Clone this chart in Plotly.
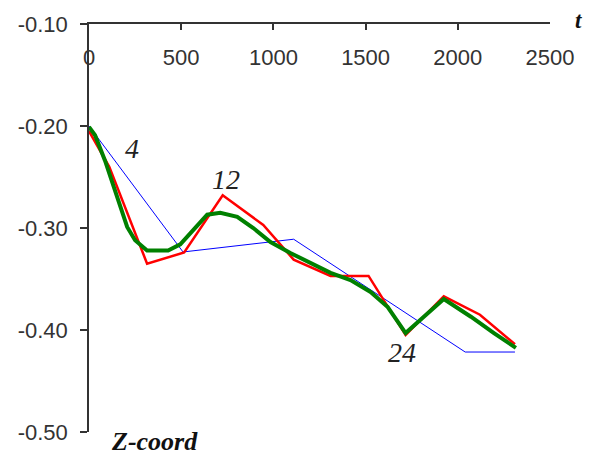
import plotly.graph_objects as go

# Data
t_4 = [0, 510, 1110, 2040, 2310]
z_4 = [-0.200, -0.3235, -0.311, -0.4216, -0.4216]

t_12 = [0, 110, 315, 516, 725, 945, 1110, 1310, 1516, 1717, 1924, 2120, 2310]
z_12 = [-0.205, -0.240, -0.335, -0.324, -0.268, -0.297, -0.331, -0.347, -0.347,
        -0.405, -0.367, -0.385, -0.414]

t_24 = [0, 33, 87, 130, 168, 207, 250, 315, 429, 495, 565, 641, 712, 804, 891,
        984, 1092, 1201, 1310, 1418, 1527, 1620, 1717, 1924, 2071, 2196, 2315]
z_24 = [-0.201, -0.209, -0.234, -0.257, -0.276, -0.299, -0.312, -0.322, -0.322,
        -0.316, -0.302, -0.287, -0.285, -0.289, -0.300, -0.3137, -0.3245, -0.334,
        -0.344, -0.351, -0.3627, -0.3775, -0.403, -0.3696, -0.387, -0.403, -0.4176]

x_ticks = [0, 500, 1000, 1500, 2000, 2500]
x_ticktext = ["0", "500", "1000", "1500", "2000", "2500"]
y_ticks = [-0.5, -0.4, -0.3, -0.2, -0.1]
y_ticktext = ["-0.50", "-0.40", "-0.30", "-0.20", "-0.10"]

curve_labels = ["4", "12", "24"]
label_t = [233, 743, 1698]
label_z = [-0.2225, -0.252, -0.4216]

fig = go.Figure()
fig.add_trace(go.Scatter(x=t_4, y=z_4, mode="lines",
                         line=dict(color="#0000FF", width=1), showlegend=False))
fig.add_trace(go.Scatter(x=t_12, y=z_12, mode="lines",
                         line=dict(color="#FF0000", width=2.5), showlegend=False))
fig.add_trace(go.Scatter(x=t_24, y=z_24, mode="lines",
                         line=dict(color="#008000", width=4), showlegend=False))
# invisible trace on the label axis so it is drawn
fig.add_trace(go.Scatter(x=x_ticks, y=[None] * len(x_ticks), xaxis="x2", yaxis="y",
                         mode="lines", showlegend=False, hoverinfo="skip"))

for txt, xv, yv in zip(curve_labels, label_t, label_z):
    fig.add_annotation(x=xv, y=yv, xref="x", yref="y", text=f"<i>{txt}</i>",
                       showarrow=False, xanchor="center", yanchor="middle",
                       font=dict(family="Liberation Serif", size=28, color="#222222"))

fig.add_annotation(x=1.061, y=1.008, xref="paper", yref="paper", text="<b><i>t</i></b>",
                   showarrow=False, xanchor="center", yanchor="middle",
                   font=dict(family="Liberation Serif", size=23, color="#111111"))
fig.add_annotation(x=0.141, y=-0.0245, xref="paper", yref="paper", text="<b><i>Z-coord</i></b>",
                   showarrow=False, xanchor="center", yanchor="middle",
                   font=dict(family="Liberation Serif", size=26, color="#111111"))

tick_font = dict(family="Liberation Sans", size=22, color="#333333")

fig.update_layout(
    width=600, height=459,
    margin=dict(l=81, r=58, t=16, b=35),
    paper_bgcolor="white", plot_bgcolor="white",
    xaxis=dict(range=[0, 2500], side="top", tickvals=x_ticks, showticklabels=False,
               ticks="inside", ticklen=6, tickcolor="#333333", tickwidth=1.5,
               showline=True, linecolor="#333333", linewidth=1.5, automargin=False,
               showgrid=False, zeroline=False),
    xaxis2=dict(range=[0, 2500], overlaying="x", matches="x", anchor="free", position=0.888,
                side="top", tickvals=x_ticks, ticktext=x_ticktext, ticks="",
                showline=False, showgrid=False, zeroline=False, automargin=False,
                tickfont=tick_font),
    yaxis=dict(range=[-0.5, -0.1], tickvals=y_ticks, ticktext=y_ticktext,
               ticks="outside", ticklen=7, tickcolor="#333333", tickwidth=1.5,
               showline=True, linecolor="#333333", linewidth=1.5, ticklabelstandoff=8,
               showgrid=False, zeroline=False, automargin=False, tickfont=tick_font),
)

fig.write_html("out.html")
